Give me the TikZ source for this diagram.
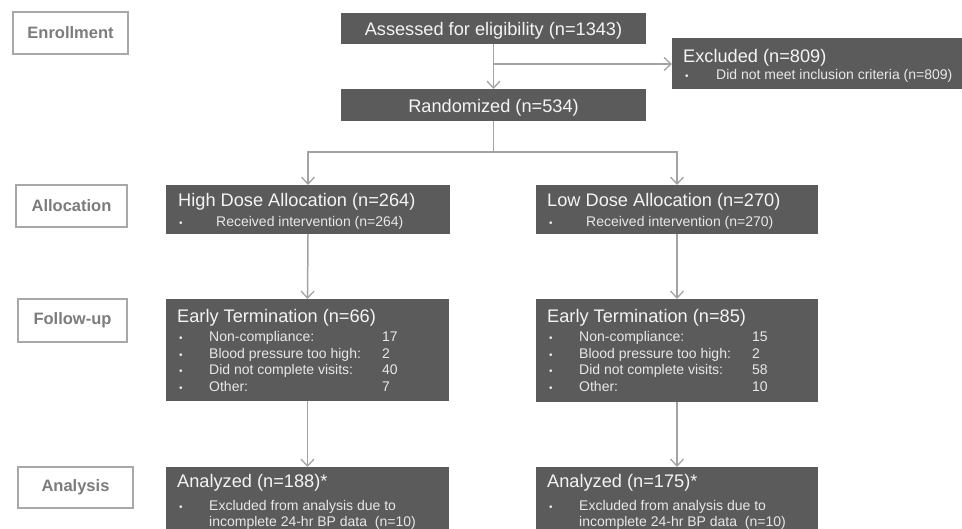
\documentclass[tikz,border=0pt]{standalone}
\usepackage{fontspec}
\setmainfont{Liberation Sans}
\usetikzlibrary{arrows.meta}
\definecolor{boxfill}{HTML}{5B5B5B}
\definecolor{titlecol}{HTML}{F4F4F4}
\definecolor{subcol}{HTML}{E8E8E8}
\definecolor{linecol}{HTML}{A3A3A3}
\definecolor{labcol}{HTML}{7C7C7C}
\definecolor{labborder}{HTML}{A8A8A8}
\tikzset{
  darkbox/.style={draw=none, fill=boxfill, inner sep=0pt, outer sep=0pt, rectangle},
  labbox/.style={draw=labborder, line width=1.6pt, fill=white, inner sep=0pt, outer sep=0pt, rectangle,
                 text=labcol, font=\fontsize{16.5}{18}\selectfont\bfseries},
  ttl/.style={inner sep=0pt, text=titlecol, font=\fontsize{18.2}{20}\selectfont},
  ttlc/.style={ttl, anchor=base},
  ttlw/.style={ttl, anchor=base west},
  sub/.style={inner sep=0pt, anchor=base west, text=subcol, font=\fontsize{14}{16}\selectfont},
  bul/.style={inner sep=0pt, anchor=base west, text=subcol, font=\fontsize{10}{12}\selectfont},
  conn/.style={draw=linecol, line width=1.5pt},
  arr/.style={conn, -{Straight Barb[length=7pt,width=13pt,line width=1.3pt]}}
}
\begin{document}
\begin{tikzpicture}[x=1pt,y=-1pt]
\useasboundingbox (0,0) rectangle (962,529);

% stage labels
\node[labbox, minimum width=115pt, minimum height=42pt] (lenr) at (70.5,33) {Enrollment};
\node[labbox, minimum width=111pt, minimum height=42pt] (lall) at (71.5,206) {Allocation};
\node[labbox, minimum width=109pt, minimum height=43pt] (lfol) at (72.5,320.5) {Follow-up};
\node[labbox, minimum width=115pt, minimum height=41pt] (lana) at (75.5,487.5) {Analysis};

% enrollment boxes
\node[darkbox, minimum width=305pt, minimum height=31pt] (assess) at (493.5,28.5) {};
\node[ttlc] (tassess) at (493.5,35.5) {Assessed for eligibility (n=1343)};
\node[darkbox, minimum width=305pt, minimum height=32pt] (rand) at (493.5,105) {};
\node[ttlc] (trand) at (493.5,112.5) {Randomized (n=534)};
\node[darkbox, minimum width=290pt, minimum height=51pt] (excl) at (817,63.5) {};
\node[ttlw] (texcl) at (683,63) {Excluded (n=809)};
\node[bul] (bexcl) at (685,80) {•};
\node[sub] (sexcl) at (716,80) {Did not meet inclusion criteria (n=809)};

% allocation boxes
\node[darkbox, minimum width=284pt, minimum height=49pt] (high) at (308,209.5) {};
\node[ttlw] (thigh) at (178,207) {High Dose Allocation (n=264)};
\node[bul] (bhigh) at (179,227) {•};
\node[sub] (shigh) at (216,227) {Received intervention (n=264)};
\node[darkbox, minimum width=282pt, minimum height=49pt] (low) at (677,209.5) {};
\node[ttlw] (tlow) at (547,207) {Low Dose Allocation (n=270)};
\node[bul] (blow) at (549,227) {•};
\node[sub] (slow) at (586,227) {Received intervention (n=270)};

% follow-up boxes
\node[darkbox, minimum width=283pt, minimum height=102pt] (terml) at (307.5,350) {};
\node[ttlw] (tterml) at (177,323) {Early Termination (n=66)};
\node[bul] (bl1) at (179,342) {•};
\node[bul] (bl2) at (179,358.5) {•};
\node[bul] (bl3) at (179,375) {•};
\node[bul] (bl4) at (179,391.5) {•};
\node[sub] (il1) at (209,342) {Non-compliance:};
\node[sub] (il2) at (209,358.5) {Blood pressure too high:};
\node[sub] (il3) at (209,375) {Did not complete visits:};
\node[sub] (il4) at (209,391.5) {Other:};
\node[sub] (nl1) at (382,342) {17};
\node[sub] (nl2) at (382,358.5) {2};
\node[sub] (nl3) at (382,375) {40};
\node[sub] (nl4) at (382,391.5) {7};

\node[darkbox, minimum width=282pt, minimum height=103pt] (termr) at (677,350.5) {};
\node[ttlw] (ttermr) at (547,323) {Early Termination (n=85)};
\node[bul] (br1) at (549,342) {•};
\node[bul] (br2) at (549,358.5) {•};
\node[bul] (br3) at (549,375) {•};
\node[bul] (br4) at (549,391.5) {•};
\node[sub] (ir1) at (579,342) {Non-compliance:};
\node[sub] (ir2) at (579,358.5) {Blood pressure too high:};
\node[sub] (ir3) at (579,375) {Did not complete visits:};
\node[sub] (ir4) at (579,391.5) {Other:};
\node[sub] (nr1) at (752,342) {15};
\node[sub] (nr2) at (752,358.5) {2};
\node[sub] (nr3) at (752,375) {58};
\node[sub] (nr4) at (752,391.5) {10};

% analysis boxes
\node[darkbox, minimum width=283pt, minimum height=62pt] (anal) at (307.5,498) {};
\node[ttlw] (tanal) at (177,487) {Analyzed (n=188)*};
\node[bul] (banal) at (179,510) {•};
\node[sub] (sanal1) at (209,510) {Excluded from analysis due to};
\node[sub] (sanal2) at (209,526.5) {incomplete 24-hr BP data\ \ (n=10)};
\node[darkbox, minimum width=282pt, minimum height=62pt] (anar) at (677,498) {};
\node[ttlw] (tanar) at (547,487) {Analyzed (n=175)*};
\node[bul] (banar) at (549,510) {•};
\node[sub] (sanar1) at (579,510) {Excluded from analysis due to};
\node[sub] (sanar2) at (579,526.5) {incomplete 24-hr BP data\ \ (n=10)};

% connectors
\coordinate (brexcl) at (493.5,64);
\coordinate (split) at (493.5,152);
\draw[arr] (assess.south) -- (rand.north);
\draw[arr] (brexcl) -- (brexcl -| excl.west);
\draw[conn] (rand.south) -- (split);
\draw[arr] (split) -| (high.north);
\draw[arr] (split) -| (low.north);
\draw[arr] (high.south) -- (terml.north);
\draw[arr] (low.south) -- (termr.north);
\draw[arr] (terml.south) -- (anal.north);
\draw[arr] (termr.south) -- (anar.north);
\end{tikzpicture}
\end{document}
